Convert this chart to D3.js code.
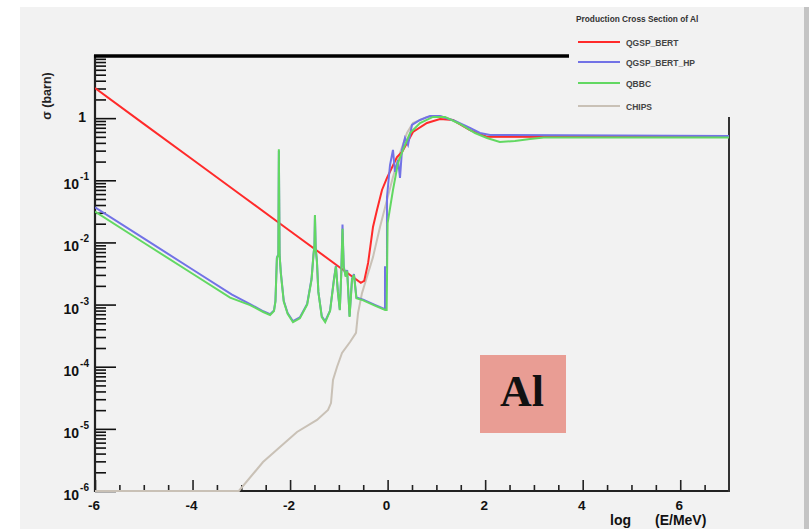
<!DOCTYPE html>
<html><head><meta charset="utf-8">
<script src="https://cdn.jsdelivr.net/npm/d3@7"></script>
<style>html,body{margin:0;padding:0;background:#fff;}svg{display:block;}</style>
</head><body>
<script>
// ---- data (x: log10(E/MeV), y: cross section in barn) ----
const seriesNames = ["QGSP_BERT", "QGSP_BERT_HP", "QBBC", "CHIPS"];
const seriesColors = ["#ff2a2a", "#7272e6", "#62d862", "#c9c1b6"];

const bertX = [-6, -5, -4, -3, -2, -1, -0.55, -0.48, -0.40, -0.30, -0.218, -0.115, -0.013, 0.192, 0.295, 0.52, 0.807, 1.074, 1.34, 1.69, 2.04, 7];
const bertY = [3.05, 0.81, 0.216, 0.0575, 0.0153, 0.00407, 0.00224, 0.0024, 0.00467, 0.0177, 0.0333, 0.0698, 0.109, 0.237, 0.285, 0.60, 0.836, 0.97, 0.93, 0.64, 0.50, 0.50];

const bertHpX = [-6, -5, -4, -3.2, -2.82, -2.55, -2.41, -2.33, -2.30, -2.27, -2.24, -2.23, -2.215, -2.19, -2.13, -2.05, -1.94, -1.80, -1.65, -1.56, -1.52, -1.50, -1.49, -1.475, -1.45, -1.42, -1.35, -1.28, -1.18, -1.10, -1.06, -1.02, -0.98, -0.95, -0.925, -0.90, -0.86, -0.83, -0.80, -0.78, -0.73, -0.69, -0.64, -0.50, -0.25, -0.054, -0.054, -0.013, -0.013, 0.049, 0.110, 0.151, 0.213, 0.254, 0.295, 0.356, 0.418, 0.50, 0.664, 0.869, 1.074, 1.382, 1.689, 1.894, 2.10, 7];
const bertHpY = [0.0367, 0.0116, 0.00367, 0.00146, 0.00102, 0.00078, 0.0007, 0.0008, 0.00115, 0.0057, 0.0064, 0.30, 0.0064, 0.0033, 0.00115, 0.00073, 0.00054, 0.00062, 0.00102, 0.0026, 0.0064, 0.009, 0.027, 0.008, 0.0051, 0.0016, 0.00065, 0.00054, 0.0008, 0.0026, 0.0042, 0.0016, 0.00083, 0.0033, 0.0195, 0.0041, 0.0029, 0.0036, 0.0013, 0.00065, 0.0026, 0.0031, 0.0013, 0.0012, 0.00098, 0.00084, 0.0040, 0.0040, 0.0538, 0.176, 0.308, 0.136, 0.212, 0.109, 0.308, 0.48, 0.37, 0.776, 0.933, 1.08, 1.08, 0.90, 0.695, 0.577, 0.536, 0.516];

const qbbcX = [-6, -5, -4, -3.23, -2.82, -2.55, -2.41, -2.33, -2.30, -2.27, -2.24, -2.23, -2.215, -2.19, -2.13, -2.05, -1.94, -1.80, -1.65, -1.56, -1.52, -1.50, -1.49, -1.475, -1.45, -1.42, -1.35, -1.28, -1.18, -1.10, -1.06, -1.02, -0.98, -0.95, -0.925, -0.90, -0.86, -0.83, -0.80, -0.78, -0.73, -0.69, -0.64, -0.50, -0.25, -0.05, -0.02, 0.0, 0.11, 0.213, 0.315, 0.459, 0.664, 0.93, 1.177, 1.484, 1.792, 2.038, 2.30, 2.61, 2.92, 3.2, 7];
const qbbcY = [0.0313, 0.00989, 0.00313, 0.00129, 0.00098, 0.00076, 0.00068, 0.00079, 0.00112, 0.0056, 0.0063, 0.316, 0.0063, 0.0032, 0.00112, 0.00071, 0.00052, 0.0006, 0.001, 0.0025, 0.0063, 0.0089, 0.0275, 0.0079, 0.005, 0.0016, 0.00063, 0.00052, 0.00079, 0.0025, 0.0041, 0.0016, 0.00081, 0.0032, 0.0166, 0.004, 0.0028, 0.0035, 0.00126, 0.00063, 0.0025, 0.003, 0.00126, 0.00117, 0.00095, 0.00082, 0.00082, 0.0204, 0.0698, 0.19, 0.308, 0.577, 0.836, 1.045, 1.045, 0.805, 0.577, 0.48, 0.414, 0.43, 0.46, 0.49, 0.49];

const chipsX = [-6, -3.05, -2.555, -2.207, -1.858, -1.448, -1.222, -1.161, -1.120, -1.038, -0.935, -0.771, -0.648, -0.607, -0.525, -0.443, -0.30, -0.156, -0.013, 0.110, 0.254, 0.397, 0.520, 0.807, 1.074, 1.341, 1.689, 2.038, 7];
const chipsY = [1e-6, 1e-6, 2.93e-6, 5.1e-6, 8.9e-6, 1.39e-5, 2.01e-5, 2.6e-5, 6.1e-5, 9.9e-5, 1.66e-4, 2.5e-4, 3.5e-4, 7.3e-4, 1.53e-3, 2.49e-3, 5.8e-3, 0.0177, 0.0482, 0.113, 0.275, 0.577, 0.836, 1.045, 1.08, 0.93, 0.644, 0.50, 0.50];

const xMajorTicks = [-6, -4, -2, 0, 2, 4, 6];
const xTickLabels = ["-6", "-4", "-2", "0", "2", "4", "6"];
const yDecadeExps = [-6, -5, -4, -3, -2, -1, 0];
const legendTitle = "Production Cross Section of Al";
const yTitle = "\u03c3 (barn)";
const elementLabel = "Al";

// ---- layout ----
const W = 811, H = 529;
const svg = d3.select("body").append("svg").attr("width", W).attr("height", H);
const x = d3.scaleLinear().domain([-6, 7]).range([95, 729]);
const y = d3.scaleLog().domain([1e-6, 10]).range([491, 56]);

svg.append("rect").attr("width", W).attr("height", H).attr("fill", "#ffffff");
svg.append("rect").attr("x", 20).attr("y", 7).attr("width", 784).attr("height", H - 7).attr("fill", "#f2f2f2");
svg.append("rect").attr("x", 804).attr("y", 7).attr("width", 5).attr("height", H - 7).attr("fill", "#c4c4c4");

const font = "'Liberation Sans', Arial, Helvetica, sans-serif";

// y axis
const yMinor = [];
for (let e = -6; e < 1; e++) for (let k = 2; k <= 9; k++) yMinor.push(k * Math.pow(10, e));
const yMajorVals = yDecadeExps.map(e => Math.pow(10, e));
const gy = svg.append("g").attr("transform", "translate(95,0)");
gy.call(d3.axisRight(y).tickValues(yMinor).tickSize(11).tickSizeOuter(0).tickFormat(""));
gy.call(g => g.selectAll(".tick line").attr("stroke", "#111").attr("stroke-width", 1.6));
const gy2 = svg.append("g").attr("transform", "translate(95,0)");
gy2.call(d3.axisRight(y).tickValues(yMajorVals).tickSize(21).tickSizeOuter(0).tickFormat(""));
gy2.selectAll(".tick line").attr("stroke", "#111").attr("stroke-width", 1.6);
svg.selectAll(".domain").remove();

// x axis
const xMinor = [];
for (let v = -5.5; v < 7; v += 0.5) if (!xMajorTicks.includes(v)) xMinor.push(v);
const gx = svg.append("g").attr("transform", "translate(0,491)");
gx.call(d3.axisTop(x).tickValues(xMinor).tickSize(6).tickSizeOuter(0).tickFormat(""));
gx.selectAll(".tick line").attr("stroke", "#222").attr("stroke-width", 1.6);
const gx2 = svg.append("g").attr("transform", "translate(0,491)");
gx2.call(d3.axisTop(x).tickValues(xMajorTicks).tickSize(11).tickSizeOuter(0).tickFormat(""));
gx2.selectAll(".tick line").attr("stroke", "#222").attr("stroke-width", 1.6);
svg.selectAll(".domain").remove();

// frame lines
svg.append("line").attr("x1", 95).attr("x2", 95).attr("y1", 55).attr("y2", 492).attr("stroke", "#222").attr("stroke-width", 2.2);
svg.append("line").attr("x1", 94).attr("x2", 730).attr("y1", 491).attr("y2", 491).attr("stroke", "#222").attr("stroke-width", 2.2);
svg.append("line").attr("x1", 729).attr("x2", 729).attr("y1", 117).attr("y2", 492).attr("stroke", "#333").attr("stroke-width", 2);
svg.append("line").attr("x1", 94).attr("x2", 569).attr("y1", 56).attr("y2", 56).attr("stroke", "#000").attr("stroke-width", 3.5);

// y labels
yDecadeExps.forEach(e => {
  const ty = y(Math.pow(10, e));
  if (e === 0) {
    svg.append("text").attr("x", 86).attr("y", ty + 4).attr("text-anchor", "end")
      .attr("font-family", font).attr("font-weight", "bold").attr("font-size", 14).attr("fill", "#111").text("1");
  } else {
    const t = svg.append("text").attr("x", 89).attr("y", ty + 9).attr("text-anchor", "end")
      .attr("font-family", font).attr("font-weight", "bold").attr("font-size", 14).attr("fill", "#111");
    t.append("tspan").text("10");
    t.append("tspan").attr("dx", 1).attr("dy", -9).attr("font-size", 10).text("-" + Math.abs(e));
  }
});
// x labels
xMajorTicks.forEach((v, i) => {
  svg.append("text").attr("x", x(v) - 1).attr("y", 510).attr("text-anchor", "middle")
    .attr("font-family", font).attr("font-weight", "bold").attr("font-size", 13.5).attr("fill", "#111").text(xTickLabels[i]);
});
// axis titles
svg.append("text").attr("x", 610).attr("y", 525).attr("font-family", font).attr("font-weight", "bold")
  .attr("font-size", 14).attr("fill", "#111").text("log");
svg.append("text").attr("x", 655).attr("y", 525).attr("font-family", font).attr("font-weight", "bold")
  .attr("font-size", 14).attr("fill", "#111").text("(E/MeV)");
svg.append("text").attr("transform", "translate(51,96) rotate(-90)").attr("text-anchor", "middle")
  .attr("font-family", font).attr("font-weight", "bold").attr("font-size", 12.5).attr("fill", "#222").text(yTitle);

// curves
svg.append("clipPath").attr("id", "plotclip").append("rect").attr("x", 95).attr("y", 54).attr("width", 635).attr("height", 439);
const line = d3.line().x(d => x(d[0])).y(d => y(d[1]));
const curves = [
  [chipsX, chipsY, seriesColors[3]],
  [bertX, bertY, seriesColors[0]],
  [bertHpX, bertHpY, seriesColors[1]],
  [qbbcX, qbbcY, seriesColors[2]]
];
const gc = svg.append("g").attr("clip-path", "url(#plotclip)");
curves.forEach(([xs, ys, c]) => {
  gc.append("path").datum(xs.map((v, i) => [v, ys[i]])).attr("d", line)
    .attr("fill", "none").attr("stroke", c).attr("stroke-width", 2).attr("stroke-linejoin", "miter");
});

// legend
svg.append("text").attr("x", 576).attr("y", 22).attr("font-family", font).attr("font-weight", "bold")
  .attr("font-size", 8.3).attr("fill", "#333").text(legendTitle);
const legendY = [42, 62, 83, 106];
seriesNames.forEach((n, i) => {
  svg.append("line").attr("x1", 578).attr("x2", 620).attr("y1", legendY[i]).attr("y2", legendY[i])
    .attr("stroke", seriesColors[i]).attr("stroke-width", 2);
  svg.append("text").attr("x", 626).attr("y", legendY[i] + 3.5).attr("font-family", font).attr("font-weight", "bold")
    .attr("font-size", 8.5).attr("fill", "#444").text(n);
});

// element box
svg.append("rect").attr("x", 480).attr("y", 355).attr("width", 86).attr("height", 78).attr("fill", "#e99d94");
svg.append("text").attr("x", 522).attr("y", 406).attr("text-anchor", "middle")
  .attr("font-family", "'Liberation Serif', 'DejaVu Serif', serif").attr("font-weight", "bold")
  .attr("font-size", 44).attr("fill", "#111").text(elementLabel);
</script>
</body></html>
